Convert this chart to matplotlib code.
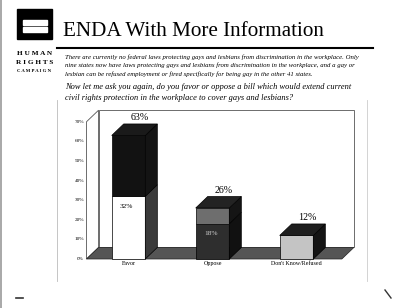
import matplotlib
matplotlib.use('Agg')
import matplotlib.pyplot as plt
from matplotlib.patches import Polygon, Rectangle

categories = ["Favor", "Oppose", "Don't Know/Refused"]
totals = [63, 26, 12]
inner = [32, 18, 0]          # lower segment of each stacked bar
y_ticks = [0, 10, 20, 30, 40, 50, 60, 70]

low_front = ["#ffffff", "#2e2e2e", "#c4c4c4"]
low_side = ["#3a3a3a", "#111111", "#141414"]
up_front = ["#121212", "#6e6e6e", "#c4c4c4"]
up_side = ["#141414", "#151515", "#141414"]
top_col = ["#1a1a1a", "#232323", "#1e1e1e"]

W, H = 400, 308
fig = plt.figure(figsize=(4, 3.08), dpi=100)
fig.patch.set_facecolor("white")

# page layer in pixel coordinates
page = fig.add_axes([0, 0, 1, 1])
page.set_xlim(0, W)
page.set_ylim(H, 0)
page.axis("off")

page.plot([1, 1], [0, H], color="#999999", lw=1.2)
page.add_patch(Rectangle((17.3, 9.3), 34.4, 30, color="black"))
page.add_patch(Rectangle((22.7, 20), 24, 4.7, color="white"))
page.add_patch(Rectangle((22.7, 27.3), 24, 4.4, color="white"))
serif = "Liberation Serif"
page.text(34.5, 55, "H U M A N", family=serif, fontsize=5.2, weight="bold", ha="center", va="baseline")
page.text(34.5, 64, "R I G H T S", family=serif, fontsize=5.2, weight="bold", ha="center", va="baseline")
page.text(34.5, 72.5, "C A M P A I G N", family=serif, fontsize=3.4, weight="bold", ha="center", va="baseline")

page.text(63, 36, "ENDA With More Information", family=serif, fontsize=15.2, ha="left", va="baseline")
page.plot([57, 373], [48, 48], color="black", lw=1.5)

para = ["There are currently no federal laws protecting gays and lesbians from discrimination in the workplace. Only",
        "nine states now have laws protecting gays and lesbians from discrimination in the workplace, and a gay or",
        "lesbian can be refused employment or fired specifically for being gay in the other 41 states."]
for i, line in enumerate(para):
    page.text(65, 58.5 + 8.7 * i, line, family=serif, style="italic", fontsize=4.85, ha="left", va="baseline")
question = ["Now let me ask you again, do you favor or oppose a bill which would extend current",
            "civil rights protection in the workplace to cover gays and lesbians?"]
for i, line in enumerate(question):
    page.text(65, 89 + 10.5 * i, line, family=serif, style="italic", fontsize=6, ha="left", va="baseline")

# faint box around the chart and scan marks
page.plot([57, 57], [100, 281], color="#bbbbbb", lw=0.6)
page.plot([367, 367], [100, 281], color="#cccccc", lw=0.6)
page.plot([16, 23], [298, 298], color="#333333", lw=1.2)
page.plot([385, 391], [290, 298], color="#333333", lw=1.0)

# chart in data coordinates
ax = fig.add_axes([0.21625, 0.1591, 0.672, 0.4838])
ax.set_xlim(-0.5, 2.7)
ax.set_ylim(0, 76)
ax.axis("off")

DX, DY = 0.143, 5.87
x0, x1, ymax = -0.5, 2.54, 70
bw = 0.4

ax.add_patch(Polygon([(x0 + DX, DY), (x1 + DX, DY), (x1 + DX, ymax + DY), (x0 + DX, ymax + DY)],
                     closed=True, facecolor="white", edgecolor="#555555", lw=0.6, clip_on=False))
ax.add_patch(Polygon([(x0, 0), (x0, ymax), (x0 + DX, ymax + DY), (x0 + DX, DY)],
                     closed=True, facecolor="white", edgecolor="#555555", lw=0.6, clip_on=False))
ax.add_patch(Polygon([(x0, 0), (x1, 0), (x1 + DX, DY), (x0 + DX, DY)],
                     closed=True, facecolor="#555555", edgecolor="#222222", lw=0.5, clip_on=False))

for t in y_ticks:
    ax.text(x0 - 0.03, t, f"{t}%", family=serif, fontsize=3.8, ha="right", va="center")

for i, cat in enumerate(categories):
    segs = [(0, inner[i], low_front[i], low_side[i]), (inner[i], totals[i], up_front[i], up_side[i])]
    for lo, hi, fc, sc in segs:
        if hi <= lo:
            continue
        ax.bar(i, hi - lo, bottom=lo, width=bw, color=fc, edgecolor="black", lw=0.5, clip_on=False)
        r = i + bw / 2
        ax.add_patch(Polygon([(r, lo), (r + DX, lo + DY), (r + DX, hi + DY), (r, hi)],
                             closed=True, facecolor=sc, edgecolor="black", lw=0.5, clip_on=False))
    l, r, h = i - bw / 2, i + bw / 2, totals[i]
    ax.add_patch(Polygon([(l, h), (r, h), (r + DX, h + DY), (l + DX, h + DY)],
                         closed=True, facecolor=top_col[i], edgecolor="black", lw=0.5, clip_on=False))
    ax.text(i + 0.13, h + DY + 0.8, f"{h}%", family=serif, fontsize=7.2, ha="center", va="bottom")
    if inner[i]:
        tc = "black" if i == 0 else "#cccccc"
        ax.text(i - 0.02, inner[i] - 5.2, f"{inner[i]}%", family=serif, fontsize=5.3,
                ha="center", va="center", color=tc)
    ax.text(i, -0.9, cat, family=serif, fontsize=4.3, ha="center", va="top")

fig.savefig("out.png", dpi=100, facecolor="white")
